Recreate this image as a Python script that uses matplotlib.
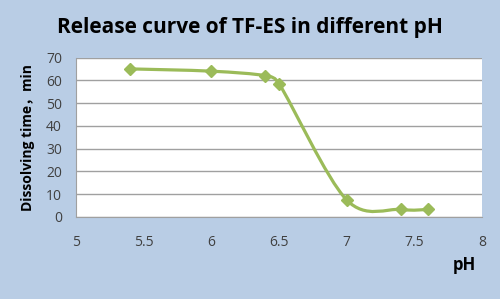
import numpy as np
import matplotlib.pyplot as plt
from matplotlib.path import Path
import matplotlib.patches as mpatches

# ==== data ====
ph = [5.4, 6.0, 6.4, 6.5, 7.0, 7.4, 7.6]
dissolving_time = [65, 64, 62, 58.5, 7.5, 3.3, 3.3]
x_ticks = [5, 5.5, 6, 6.5, 7, 7.5, 8]
y_ticks = [0, 10, 20, 30, 40, 50, 60, 70]

bg = "#B9CDE5"
green = "#9BBB59"
fonts = ["Open Sans", "Noto Sans CJK SC", "DejaVu Sans"]

fig = plt.figure(figsize=(5, 2.99), dpi=100, facecolor=bg)
ax = fig.add_axes([76 / 500, 1 - 217 / 299, (482 - 76) / 500, (217 - 57.5) / 299])
ax.set_facecolor("white")
ax.set_xlim(5, 8)
ax.set_ylim(0, 70)

# smoothed line (Catmull-Rom bezier with clamped handles, like Excel's smooth line)
# handles are clamped in screen units, so work in display coords then go back
pts = ax.transData.transform(np.column_stack([ph, dissolving_time]))
verts = [tuple(pts[0])]
codes = [Path.MOVETO]
n = len(pts)
for i in range(n - 1):
    p0 = pts[i - 1] if i > 0 else pts[i]
    p1 = pts[i]
    p2 = pts[i + 1]
    p3 = pts[i + 2] if i + 2 < n else pts[i + 1]
    chord = np.linalg.norm(p2 - p1) / 2
    t1 = (p2 - p0) / 6
    t2 = (p3 - p1) / 6
    if np.linalg.norm(t1) > chord:
        t1 = t1 / np.linalg.norm(t1) * chord
    if np.linalg.norm(t2) > chord:
        t2 = t2 / np.linalg.norm(t2) * chord
    verts += [tuple(p1 + t1), tuple(p2 - t2), tuple(p2)]
    codes += [Path.CURVE4] * 3
verts = ax.transData.inverted().transform(verts)
ax.add_patch(mpatches.PathPatch(Path(verts, codes), facecolor="none",
                                edgecolor=green, lw=2.3, zorder=3))
ax.plot(ph, dissolving_time, ls="none", marker="D", ms=6.3, color=green, zorder=4)

ax.set_xticks(x_ticks)
ax.set_xticklabels([f"{t:g}" for t in x_ticks])
ax.set_yticks(y_ticks)
ax.tick_params(length=0, labelsize=10, colors="#404040")
ax.tick_params(axis="x", pad=13)
ax.tick_params(axis="y", pad=10)
for lab in ax.get_xticklabels() + ax.get_yticklabels():
    lab.set_family(fonts)
ax.grid(axis="y", color="#A0A0A0", lw=1)
ax.set_axisbelow(True)
for s in ["top", "right"]:
    ax.spines[s].set_visible(False)
ax.spines["left"].set_color("#A0A0A0")
ax.spines["bottom"].set_color("#A0A0A0")

fig.text(0.5, 1 - 28 / 299, "Release curve of TF-ES in different pH", ha="center", va="center",
         fontsize=15, fontweight="bold", family=fonts)
fig.text(28 / 500, 1 - 138 / 299, "Dissolving time，min", ha="center", va="center", rotation=90,
         fontsize=10, fontweight="bold", family=fonts)
fig.text(464 / 500, 1 - 265 / 299, "pH", ha="center", va="center",
         fontsize=12, fontweight="bold", family=fonts)

plt.savefig("out.png", dpi=100, facecolor=bg)
